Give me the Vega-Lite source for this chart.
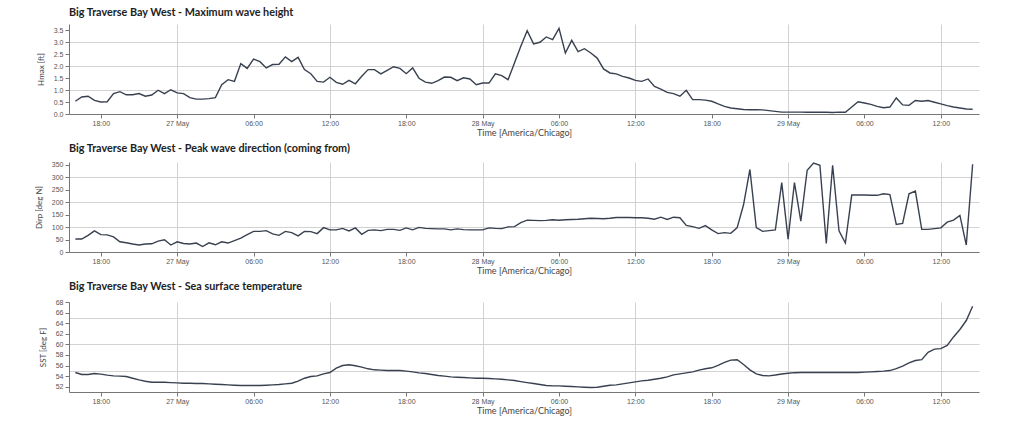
{
  "$schema": "https://vega.github.io/schema/vega-lite/v6.json",
  "padding": {"left": 35, "top": 7, "right": 40, "bottom": 4},
  "spacing": 6,
  "config": {
    "view": {"stroke": null},
    "axis": {"labelFont": "Liberation Sans", "labelFontSize": 7, "labelColor": "#555", "titleFont": "Lato", "titleFontSize": 9, "titleFontWeight": "normal", "titleColor": "#444", "domainColor": "#777", "tickColor": "#777", "tickSize": 4, "gridColor": "#d2d2d2", "labelPadding": 2},
    "title": {"font": "Lato", "fontSize": 10.8, "fontWeight": "bold", "color": "#222", "anchor": "start", "offset": 6, "frame": "group"}
  },
  "data": {"values": [
    {"t":"2024-05-26T16:00Z","hmax":0.53,"dirp":52,"sst":54.68},
    {"t":"2024-05-26T16:30Z","hmax":0.71,"dirp":52,"sst":54.3},
    {"t":"2024-05-26T17:00Z","hmax":0.74,"dirp":67,"sst":54.3},
    {"t":"2024-05-26T17:30Z","hmax":0.57,"dirp":85,"sst":54.5},
    {"t":"2024-05-26T18:00Z","hmax":0.5,"dirp":70,"sst":54.37},
    {"t":"2024-05-26T18:30Z","hmax":0.51,"dirp":69,"sst":54.18},
    {"t":"2024-05-26T19:00Z","hmax":0.85,"dirp":61,"sst":54.05},
    {"t":"2024-05-26T19:30Z","hmax":0.93,"dirp":41,"sst":53.99},
    {"t":"2024-05-26T20:00Z","hmax":0.8,"dirp":37,"sst":53.92},
    {"t":"2024-05-26T20:30Z","hmax":0.8,"dirp":32,"sst":53.6},
    {"t":"2024-05-26T21:00Z","hmax":0.85,"dirp":28,"sst":53.29},
    {"t":"2024-05-26T21:30Z","hmax":0.74,"dirp":32,"sst":53.04},
    {"t":"2024-05-26T22:00Z","hmax":0.79,"dirp":33,"sst":52.85},
    {"t":"2024-05-26T22:30Z","hmax":0.99,"dirp":44,"sst":52.85},
    {"t":"2024-05-26T23:00Z","hmax":0.85,"dirp":49,"sst":52.85},
    {"t":"2024-05-26T23:30Z","hmax":1.01,"dirp":28,"sst":52.78},
    {"t":"2024-05-27T00:00Z","hmax":0.88,"dirp":41,"sst":52.72},
    {"t":"2024-05-27T00:30Z","hmax":0.85,"dirp":34,"sst":52.66},
    {"t":"2024-05-27T01:00Z","hmax":0.68,"dirp":32,"sst":52.66},
    {"t":"2024-05-27T01:30Z","hmax":0.62,"dirp":36,"sst":52.6},
    {"t":"2024-05-27T02:00Z","hmax":0.62,"dirp":22,"sst":52.6},
    {"t":"2024-05-27T02:30Z","hmax":0.64,"dirp":37,"sst":52.53},
    {"t":"2024-05-27T03:00Z","hmax":0.68,"dirp":29,"sst":52.47},
    {"t":"2024-05-27T03:30Z","hmax":1.22,"dirp":41,"sst":52.41},
    {"t":"2024-05-27T04:00Z","hmax":1.43,"dirp":36,"sst":52.34},
    {"t":"2024-05-27T04:30Z","hmax":1.36,"dirp":46,"sst":52.28},
    {"t":"2024-05-27T05:00Z","hmax":2.1,"dirp":56,"sst":52.22},
    {"t":"2024-05-27T05:30Z","hmax":1.9,"dirp":70,"sst":52.22},
    {"t":"2024-05-27T06:00Z","hmax":2.29,"dirp":83,"sst":52.22},
    {"t":"2024-05-27T06:30Z","hmax":2.18,"dirp":83,"sst":52.22},
    {"t":"2024-05-27T07:00Z","hmax":1.92,"dirp":86,"sst":52.28},
    {"t":"2024-05-27T07:30Z","hmax":2.06,"dirp":73,"sst":52.34},
    {"t":"2024-05-27T08:00Z","hmax":2.07,"dirp":67,"sst":52.41},
    {"t":"2024-05-27T08:30Z","hmax":2.38,"dirp":83,"sst":52.53},
    {"t":"2024-05-27T09:00Z","hmax":2.18,"dirp":78,"sst":52.66},
    {"t":"2024-05-27T09:30Z","hmax":2.36,"dirp":65,"sst":53.04},
    {"t":"2024-05-27T10:00Z","hmax":1.85,"dirp":83,"sst":53.6},
    {"t":"2024-05-27T10:30Z","hmax":1.68,"dirp":82,"sst":53.92},
    {"t":"2024-05-27T11:00Z","hmax":1.36,"dirp":74,"sst":54.05},
    {"t":"2024-05-27T11:30Z","hmax":1.33,"dirp":98,"sst":54.43},
    {"t":"2024-05-27T12:00Z","hmax":1.53,"dirp":89,"sst":54.68},
    {"t":"2024-05-27T12:30Z","hmax":1.32,"dirp":89,"sst":55.5},
    {"t":"2024-05-27T13:00Z","hmax":1.24,"dirp":95,"sst":56.0},
    {"t":"2024-05-27T13:30Z","hmax":1.4,"dirp":85,"sst":56.14},
    {"t":"2024-05-27T14:00Z","hmax":1.26,"dirp":97,"sst":55.95},
    {"t":"2024-05-27T14:30Z","hmax":1.57,"dirp":71,"sst":55.7},
    {"t":"2024-05-27T15:00Z","hmax":1.85,"dirp":87,"sst":55.38},
    {"t":"2024-05-27T15:30Z","hmax":1.85,"dirp":89,"sst":55.19},
    {"t":"2024-05-27T16:00Z","hmax":1.67,"dirp":86,"sst":55.13},
    {"t":"2024-05-27T16:30Z","hmax":1.82,"dirp":91,"sst":55.06},
    {"t":"2024-05-27T17:00Z","hmax":1.97,"dirp":91,"sst":55.06},
    {"t":"2024-05-27T17:30Z","hmax":1.9,"dirp":87,"sst":55.06},
    {"t":"2024-05-27T18:00Z","hmax":1.68,"dirp":97,"sst":54.94},
    {"t":"2024-05-27T18:30Z","hmax":1.92,"dirp":89,"sst":54.81},
    {"t":"2024-05-27T19:00Z","hmax":1.49,"dirp":99,"sst":54.62},
    {"t":"2024-05-27T19:30Z","hmax":1.33,"dirp":95,"sst":54.5},
    {"t":"2024-05-27T20:00Z","hmax":1.28,"dirp":94,"sst":54.3},
    {"t":"2024-05-27T20:30Z","hmax":1.39,"dirp":93,"sst":54.11},
    {"t":"2024-05-27T21:00Z","hmax":1.54,"dirp":93,"sst":53.99},
    {"t":"2024-05-27T21:30Z","hmax":1.53,"dirp":89,"sst":53.86},
    {"t":"2024-05-27T22:00Z","hmax":1.39,"dirp":93,"sst":53.8},
    {"t":"2024-05-27T22:30Z","hmax":1.51,"dirp":90,"sst":53.73},
    {"t":"2024-05-27T23:00Z","hmax":1.46,"dirp":89,"sst":53.67},
    {"t":"2024-05-27T23:30Z","hmax":1.22,"dirp":89,"sst":53.6},
    {"t":"2024-05-28T00:00Z","hmax":1.29,"dirp":89,"sst":53.6},
    {"t":"2024-05-28T00:30Z","hmax":1.29,"dirp":97,"sst":53.54},
    {"t":"2024-05-28T01:00Z","hmax":1.67,"dirp":95,"sst":53.48},
    {"t":"2024-05-28T01:30Z","hmax":1.6,"dirp":94,"sst":53.42},
    {"t":"2024-05-28T02:00Z","hmax":1.43,"dirp":101,"sst":53.29},
    {"t":"2024-05-28T02:30Z","hmax":2.13,"dirp":102,"sst":53.16},
    {"t":"2024-05-28T03:00Z","hmax":2.82,"dirp":118,"sst":52.97},
    {"t":"2024-05-28T03:30Z","hmax":3.47,"dirp":128,"sst":52.78},
    {"t":"2024-05-28T04:00Z","hmax":2.92,"dirp":127,"sst":52.6},
    {"t":"2024-05-28T04:30Z","hmax":2.99,"dirp":126,"sst":52.41},
    {"t":"2024-05-28T05:00Z","hmax":3.21,"dirp":127,"sst":52.22},
    {"t":"2024-05-28T05:30Z","hmax":3.1,"dirp":130,"sst":52.15},
    {"t":"2024-05-28T06:00Z","hmax":3.57,"dirp":128,"sst":52.15},
    {"t":"2024-05-28T06:30Z","hmax":2.54,"dirp":130,"sst":52.09},
    {"t":"2024-05-28T07:00Z","hmax":3.07,"dirp":131,"sst":52.03},
    {"t":"2024-05-28T07:30Z","hmax":2.6,"dirp":132,"sst":51.96},
    {"t":"2024-05-28T08:00Z","hmax":2.72,"dirp":134,"sst":51.9},
    {"t":"2024-05-28T08:30Z","hmax":2.54,"dirp":136,"sst":51.84},
    {"t":"2024-05-28T09:00Z","hmax":2.33,"dirp":135,"sst":51.9},
    {"t":"2024-05-28T09:30Z","hmax":1.88,"dirp":134,"sst":52.09},
    {"t":"2024-05-28T10:00Z","hmax":1.71,"dirp":136,"sst":52.28},
    {"t":"2024-05-28T10:30Z","hmax":1.67,"dirp":139,"sst":52.34},
    {"t":"2024-05-28T11:00Z","hmax":1.57,"dirp":139,"sst":52.53},
    {"t":"2024-05-28T11:30Z","hmax":1.5,"dirp":139,"sst":52.72},
    {"t":"2024-05-28T12:00Z","hmax":1.4,"dirp":138,"sst":52.91},
    {"t":"2024-05-28T12:30Z","hmax":1.36,"dirp":138,"sst":53.1},
    {"t":"2024-05-28T13:00Z","hmax":1.46,"dirp":136,"sst":53.23},
    {"t":"2024-05-28T13:30Z","hmax":1.15,"dirp":132,"sst":53.42},
    {"t":"2024-05-28T14:00Z","hmax":1.04,"dirp":140,"sst":53.6},
    {"t":"2024-05-28T14:30Z","hmax":0.9,"dirp":131,"sst":53.86},
    {"t":"2024-05-28T15:00Z","hmax":0.85,"dirp":140,"sst":54.24},
    {"t":"2024-05-28T15:30Z","hmax":0.74,"dirp":138,"sst":54.43},
    {"t":"2024-05-28T16:00Z","hmax":0.99,"dirp":107,"sst":54.62},
    {"t":"2024-05-28T16:30Z","hmax":0.6,"dirp":102,"sst":54.81},
    {"t":"2024-05-28T17:00Z","hmax":0.6,"dirp":95,"sst":55.13},
    {"t":"2024-05-28T17:30Z","hmax":0.58,"dirp":106,"sst":55.38},
    {"t":"2024-05-28T18:00Z","hmax":0.53,"dirp":89,"sst":55.57},
    {"t":"2024-05-28T18:30Z","hmax":0.42,"dirp":74,"sst":56.01},
    {"t":"2024-05-28T19:00Z","hmax":0.32,"dirp":78,"sst":56.58},
    {"t":"2024-05-28T19:30Z","hmax":0.25,"dirp":75,"sst":57.03},
    {"t":"2024-05-28T20:00Z","hmax":0.22,"dirp":98,"sst":57.1},
    {"t":"2024-05-28T20:30Z","hmax":0.19,"dirp":190,"sst":56.2},
    {"t":"2024-05-28T21:00Z","hmax":0.18,"dirp":332,"sst":55.19},
    {"t":"2024-05-28T21:30Z","hmax":0.18,"dirp":98,"sst":54.43},
    {"t":"2024-05-28T22:00Z","hmax":0.17,"dirp":83,"sst":54.11},
    {"t":"2024-05-28T22:30Z","hmax":0.14,"dirp":86,"sst":54.05},
    {"t":"2024-05-28T23:00Z","hmax":0.11,"dirp":89,"sst":54.2},
    {"t":"2024-05-28T23:30Z","hmax":0.08,"dirp":279,"sst":54.4},
    {"t":"2024-05-29T00:00Z","hmax":0.08,"dirp":52,"sst":54.55},
    {"t":"2024-05-29T00:30Z","hmax":0.08,"dirp":279,"sst":54.65},
    {"t":"2024-05-29T01:00Z","hmax":0.08,"dirp":124,"sst":54.68},
    {"t":"2024-05-29T01:30Z","hmax":0.07,"dirp":329,"sst":54.68},
    {"t":"2024-05-29T02:00Z","hmax":0.07,"dirp":358,"sst":54.68},
    {"t":"2024-05-29T02:30Z","hmax":0.07,"dirp":349,"sst":54.68},
    {"t":"2024-05-29T03:00Z","hmax":0.07,"dirp":34,"sst":54.68},
    {"t":"2024-05-29T03:30Z","hmax":0.06,"dirp":349,"sst":54.68},
    {"t":"2024-05-29T04:00Z","hmax":0.08,"dirp":85,"sst":54.68},
    {"t":"2024-05-29T04:30Z","hmax":0.07,"dirp":36,"sst":54.68},
    {"t":"2024-05-29T05:00Z","hmax":0.29,"dirp":229,"sst":54.68},
    {"t":"2024-05-29T05:30Z","hmax":0.51,"dirp":229,"sst":54.68},
    {"t":"2024-05-29T06:00Z","hmax":0.46,"dirp":229,"sst":54.75},
    {"t":"2024-05-29T06:30Z","hmax":0.4,"dirp":228,"sst":54.81},
    {"t":"2024-05-29T07:00Z","hmax":0.32,"dirp":228,"sst":54.87},
    {"t":"2024-05-29T07:30Z","hmax":0.26,"dirp":234,"sst":54.94},
    {"t":"2024-05-29T08:00Z","hmax":0.29,"dirp":231,"sst":55.05},
    {"t":"2024-05-29T08:30Z","hmax":0.67,"dirp":111,"sst":55.4},
    {"t":"2024-05-29T09:00Z","hmax":0.38,"dirp":115,"sst":55.9},
    {"t":"2024-05-29T09:30Z","hmax":0.36,"dirp":234,"sst":56.5},
    {"t":"2024-05-29T10:00Z","hmax":0.56,"dirp":245,"sst":56.95},
    {"t":"2024-05-29T10:30Z","hmax":0.53,"dirp":91,"sst":57.1},
    {"t":"2024-05-29T11:00Z","hmax":0.56,"dirp":91,"sst":58.5},
    {"t":"2024-05-29T11:30Z","hmax":0.49,"dirp":94,"sst":59.1},
    {"t":"2024-05-29T12:00Z","hmax":0.42,"dirp":97,"sst":59.2},
    {"t":"2024-05-29T12:30Z","hmax":0.35,"dirp":120,"sst":59.8},
    {"t":"2024-05-29T13:00Z","hmax":0.29,"dirp":128,"sst":61.4},
    {"t":"2024-05-29T13:30Z","hmax":0.25,"dirp":147,"sst":62.8},
    {"t":"2024-05-29T14:00Z","hmax":0.21,"dirp":28,"sst":64.5},
    {"t":"2024-05-29T14:30Z","hmax":0.2,"dirp":353,"sst":67.2}
  ]},
  "vconcat": [
    {
      "title": "Big Traverse Bay West - Maximum wave height",
      "width": 910, "height": 90,
      "mark": {"type": "line", "color": "#394150", "strokeWidth": 1.4},
      "encoding": {
        "x": {"field": "t", "type": "temporal", "scale": {"type": "utc", "domain": [1716737400000, 1716994800000]},
          "axis": {"title": "Time [America/Chicago]", "titlePadding": 2, "labelPadding": 1,
            "values": [1716746400000, 1716768000000, 1716789600000, 1716811200000, 1716832800000, 1716854400000, 1716876000000, 1716897600000, 1716919200000, 1716940800000, 1716962400000, 1716984000000],
            "labelExpr": "utchours(datum.value) === 0 ? utcFormat(datum.value, \"%-d %b\") : utcFormat(datum.value, \"%H:%M\")",
            "gridOpacity": {"condition": {"test": "utchours(datum.value) % 12 === 0", "value": 1}, "value": 0}}},
        "y": {"field": "hmax", "type": "quantitative", "scale": {"domain": [0, 3.75], "nice": false},
          "axis": {"title": "Hmax [ft]", "titleFontSize": 8, "titlePadding": 8, "values": [0, 0.5, 1, 1.5, 2, 2.5, 3, 3.5], "format": ".1f", "labelOverlap": false,
            "gridOpacity": {"condition": {"test": "datum.value % 1 === 0 && datum.value > 0", "value": 1}, "value": 0}}}
      }
    },
    {
      "title": "Big Traverse Bay West - Peak wave direction (coming from)",
      "width": 910, "height": 90,
      "mark": {"type": "line", "color": "#394150", "strokeWidth": 1.4},
      "encoding": {
        "x": {"field": "t", "type": "temporal", "scale": {"type": "utc", "domain": [1716737400000, 1716994800000]},
          "axis": {"title": "Time [America/Chicago]", "titlePadding": 2, "labelPadding": 1,
            "values": [1716746400000, 1716768000000, 1716789600000, 1716811200000, 1716832800000, 1716854400000, 1716876000000, 1716897600000, 1716919200000, 1716940800000, 1716962400000, 1716984000000],
            "labelExpr": "utchours(datum.value) === 0 ? utcFormat(datum.value, \"%-d %b\") : utcFormat(datum.value, \"%H:%M\")",
            "gridOpacity": {"condition": {"test": "utchours(datum.value) % 12 === 0", "value": 1}, "value": 0}}},
        "y": {"field": "dirp", "type": "quantitative", "scale": {"domain": [0, 362], "nice": false},
          "axis": {"title": "Dirp [deg N]", "titleFontSize": 8, "titlePadding": 8, "values": [0, 50, 100, 150, 200, 250, 300, 350], "labelOverlap": false,
            "gridOpacity": {"condition": {"test": "datum.value % 100 === 0 && datum.value > 0", "value": 1}, "value": 0}}}
      }
    },
    {
      "title": "Big Traverse Bay West - Sea surface temperature",
      "width": 910, "height": 90,
      "mark": {"type": "line", "color": "#394150", "strokeWidth": 1.4},
      "encoding": {
        "x": {"field": "t", "type": "temporal", "scale": {"type": "utc", "domain": [1716737400000, 1716994800000]},
          "axis": {"title": "Time [America/Chicago]", "titlePadding": 2, "labelPadding": 1,
            "values": [1716746400000, 1716768000000, 1716789600000, 1716811200000, 1716832800000, 1716854400000, 1716876000000, 1716897600000, 1716919200000, 1716940800000, 1716962400000, 1716984000000],
            "labelExpr": "utchours(datum.value) === 0 ? utcFormat(datum.value, \"%-d %b\") : utcFormat(datum.value, \"%H:%M\")",
            "gridOpacity": {"condition": {"test": "utchours(datum.value) % 12 === 0", "value": 1}, "value": 0}}},
        "y": {"field": "sst", "type": "quantitative", "scale": {"domain": [51, 68], "nice": false},
          "axis": {"title": "SST [deg F]", "titleFontSize": 8, "titlePadding": 8, "values": [52, 54, 55, 56, 58, 60, 62, 64, 65, 66, 68], "labelOverlap": false,
            "labelOpacity": {"condition": {"test": "datum.value % 2 === 1", "value": 0}, "value": 1},
            "tickOpacity": {"condition": {"test": "datum.value % 2 === 1", "value": 0}, "value": 1},
            "gridOpacity": {"condition": {"test": "datum.value % 5 === 0", "value": 1}, "value": 0}}}
      }
    }
  ]
}
